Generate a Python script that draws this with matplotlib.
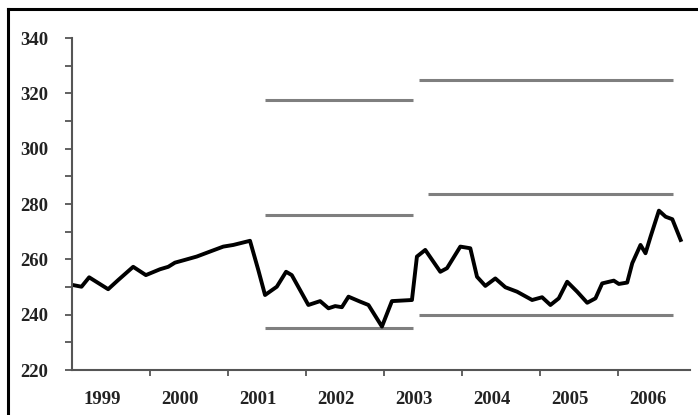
import matplotlib
matplotlib.use("Agg")
import matplotlib.pyplot as plt
from matplotlib.lines import Line2D
from matplotlib.ticker import MultipleLocator, FixedLocator, FixedFormatter, NullFormatter

# Series (decimal year, index value)
years = [1999.014, 1999.122, 1999.220, 1999.464, 1999.592, 1999.785, 1999.948,
         2000.128, 2000.235, 2000.321, 2000.449, 2000.600, 2000.770, 2000.941,
         2001.070, 2001.284, 2001.391, 2001.477, 2001.628, 2001.747, 2001.820,
         2002.033, 2002.184, 2002.291, 2002.377, 2002.463, 2002.548, 2002.698,
         2002.804, 2002.977, 2003.105, 2003.362, 2003.426, 2003.533, 2003.726,
         2003.812, 2003.983, 2004.111, 2004.197, 2004.304, 2004.432, 2004.561,
         2004.711, 2004.904, 2005.032, 2005.139, 2005.246, 2005.354, 2005.482,
         2005.611, 2005.717, 2005.803, 2005.952, 2006.017, 2006.124, 2006.189,
         2006.295, 2006.359, 2006.424, 2006.531, 2006.617, 2006.703, 2006.810]
values = [250.7, 250.1, 253.5, 249.2, 252.5, 257.3, 254.3,
          256.4, 257.3, 258.8, 259.8, 261.0, 262.8, 264.6,
          265.2, 266.7, 256.1, 247.1, 250.1, 255.5, 254.3,
          243.5, 244.9, 242.3, 243.1, 242.7, 246.5, 244.7,
          243.5, 235.7, 244.9, 245.3, 261.0, 263.4, 255.5,
          256.8, 264.6, 264.0, 253.7, 250.4, 253.1, 249.9,
          248.3, 245.3, 246.3, 243.5, 245.9, 251.9, 248.3,
          244.3, 245.9, 251.3, 252.3, 251.1, 251.6, 258.6,
          265.2, 262.2, 268.2, 277.6, 275.4, 274.5, 267.0]

# Reference bands: (start, end, level)
band_starts = [2001.477, 2001.477, 2001.477, 2003.456, 2003.562, 2003.456]
band_ends = [2003.370, 2003.370, 2003.370, 2006.715, 2006.715, 2006.715]
band_levels = [317.6, 276.0, 235.1, 324.9, 283.6, 239.9]

y_ticks = [220, 240, 260, 280, 300, 320, 340]
y_labels = ["220", "240", "260", "280", "300", "320", "340"]
year_labels = ["1999", "2000", "2001", "2002", "2003", "2004", "2005", "2006"]
year_ticks = [2000, 2001, 2002, 2003, 2004, 2005, 2006]

fig = plt.figure(figsize=(6.98, 4.15), dpi=100)
ax = fig.add_axes([72/698, 1 - 370/415, 618/698, 332/415])

for s, e, lv in zip(band_starts, band_ends, band_levels):
    ax.plot([s, e], [lv, lv], color="#7f7f7f", lw=2.2, solid_capstyle="butt")

ax.plot(years, values, color="black", lw=2.8, solid_joinstyle="round")

ax.set_xlim(1999, 2006.93)
ax.set_ylim(220, 340)

for sp in ["top", "right"]:
    ax.spines[sp].set_visible(False)
for sp in ["left", "bottom"]:
    ax.spines[sp].set_color("#555555")
    ax.spines[sp].set_linewidth(1.5)

font = dict(family="Liberation Serif", size=13.5, weight="bold")

ax.yaxis.set_minor_locator(MultipleLocator(10))
ax.set_yticks(y_ticks)
ax.set_yticklabels(y_labels, fontdict=font, color="#222222")
ax.tick_params(axis="y", which="both", direction="out", length=5, width=1.3,
               color="#555555", pad=12)

ax.xaxis.set_major_locator(FixedLocator(year_ticks))
ax.xaxis.set_major_formatter(NullFormatter())
ax.xaxis.set_minor_locator(FixedLocator([1999 + i + 0.39 for i in range(len(year_labels))]))
ax.xaxis.set_minor_formatter(FixedFormatter(year_labels))
ax.tick_params(axis="x", which="major", direction="out", length=4, width=1.3, color="#555555")
ax.tick_params(axis="x", which="minor", length=0, pad=15)
for lab in ax.xaxis.get_minorticklabels():
    lab.set_fontfamily("Liberation Serif")
    lab.set_fontsize(13.5)
    lab.set_fontweight("bold")
    lab.set_color("#222222")

# Image frame (left and top edges)
fig.add_artist(Line2D([8/698, 8/698], [0, 1 - 9/415], color="black", lw=2.2,
                      transform=fig.transFigure, solid_capstyle="projecting"))
fig.add_artist(Line2D([8/698, 1], [1 - 9/415, 1 - 9/415], color="black", lw=2.2,
                      transform=fig.transFigure, solid_capstyle="projecting"))

fig.savefig("out.png", dpi=100)
